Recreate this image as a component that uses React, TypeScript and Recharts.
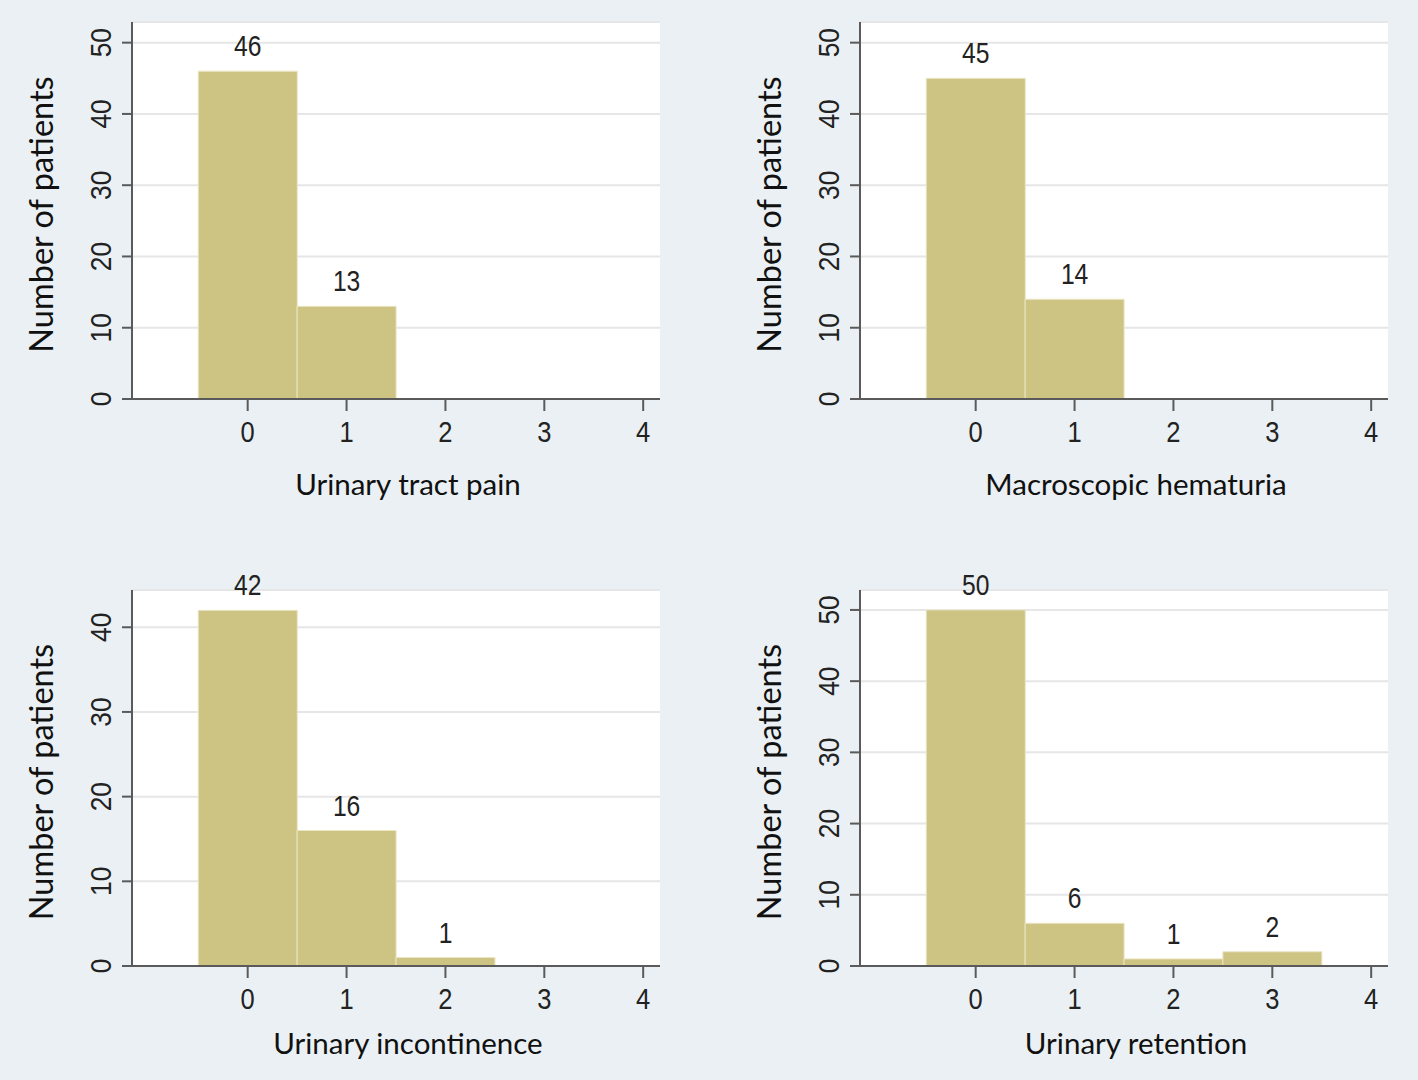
import React from 'react';
import { BarChart, Bar, XAxis, YAxis, CartesianGrid, LabelList, Label } from 'recharts';

// categories on the x axis (score 0..4)
const scores = [0, 1, 2, 3, 4];

// patients per score, one list per symptom
const tractPain = [46, 13, 0, 0, 0];
const hematuria = [45, 14, 0, 0, 0];
const incontinence = [42, 16, 1, 0, 0];
const retention = [50, 6, 1, 2, 0];

const titles = ['Urinary tract pain', 'Macroscopic hematuria', 'Urinary incontinence', 'Urinary retention'];

const yTicksTop = [0, 10, 20, 30, 40, 50];
const yTicksIncont = [0, 10, 20, 30, 40];
const yAxisTitle = 'Number of patients';

const BG = '#eaf0f3';
const BAR = '#cdc383';
const AXIS = '#5a5a5a';
const NUM_FONT = "'Liberation Sans', Arial, sans-serif";
const TITLE_FONT = "Lato, 'Open Sans', sans-serif";

type PanelProps = {
  counts: number[];
  title: string;
  yTicks: number[];
  yMax: number;
  left: number;
  top: number;
  marginLeft: number;
  marginTop: number;
  xAxisHeight: number;
  titleOffset: number;
};

// numbers in the original are tall and narrow, squeeze them a bit
const YTick = (props: any) => {
  const { x, y, payload } = props;
  return (
    <text
      transform={`translate(${x} ${y}) rotate(-90) scale(0.88 1)`}
      textAnchor="middle"
      fontFamily={NUM_FONT}
      fontSize={30}
      fill="#222"
    >
      {payload.value}
    </text>
  );
};

const XTick = (props: any) => {
  const { x, y, payload } = props;
  return (
    <text
      transform={`translate(${x} ${y}) scale(0.85 1)`}
      textAnchor="middle"
      dy="0.71em"
      fontFamily={NUM_FONT}
      fontSize={30}
      fill="#222"
    >
      {payload.value}
    </text>
  );
};

const ValueLabel = (props: any) => {
  const { x, y, width, value } = props;
  const cx = x + width / 2;
  const cy = y - 15;
  return (
    <text
      transform={`translate(${cx} ${cy}) scale(0.85 1)`}
      textAnchor="middle"
      fontFamily={NUM_FONT}
      fontSize={29}
      fill="#222"
    >
      {value}
    </text>
  );
};

const Panel: React.FC<PanelProps> = ({ counts, title, yTicks, yMax, left, top, marginLeft, marginTop, xAxisHeight, titleOffset }) => {
  const data = scores
    .map((s, i) => ({ score: s, count: counts[i] }))
    .filter((d) => d.count > 0);

  return (
    <div style={{ position: 'absolute', left, top }}>
      <BarChart
        width={709}
        height={540}
        data={data}
        barCategoryGap={0}
        barGap={0}
        margin={{ top: marginTop, right: 709 - marginLeft - 132 - 528, left: marginLeft, bottom: 0 }}
      >
        <CartesianGrid vertical={false} fill="#ffffff" stroke="#e6e6e6" strokeWidth={2} />
        <XAxis
          dataKey="score"
          type="number"
          domain={[-1.17, 4.17]}
          ticks={scores}
          allowDataOverflow
          height={xAxisHeight}
          stroke={AXIS}
          strokeWidth={2}
          tickSize={12}
          tickMargin={10}
          tick={<XTick />}
        >
          <Label
            content={(p: any) => {
              const vb = p.viewBox;
              return (
                <text
                  x={vb.x + vb.width / 2 + 12}
                  y={vb.y + titleOffset}
                  textAnchor="middle"
                  dominantBaseline="central"
                  fontFamily={TITLE_FONT}
                  fontSize={29.5}
                  fill="#111"
                >
                  {title}
                </text>
              );
            }}
          />
        </XAxis>
        <YAxis
          type="number"
          domain={[0, yMax]}
          ticks={yTicks}
          allowDataOverflow
          width={132}
          stroke={AXIS}
          strokeWidth={2}
          tickSize={10}
          tickMargin={11}
          tick={<YTick />}
        >
          <Label
            content={(p: any) => {
              const vb = p.viewBox;
              const cx = vb.x + vb.width - 92;
              const cy = vb.y + vb.height / 2 + 4;
              return (
                <text
                  x={cx}
                  y={cy}
                  transform={`rotate(-90 ${cx} ${cy})`}
                  textAnchor="middle"
                  dominantBaseline="central"
                  fontFamily={TITLE_FONT}
                  fontSize={32.5}
                  fill="#111"
                >
                  {yAxisTitle}
                </text>
              );
            }}
          />
        </YAxis>
        <Bar dataKey="count" fill={BAR} stroke="#ebe6c6" strokeWidth={1} isAnimationActive={false}>
          <LabelList dataKey="count" content={<ValueLabel />} />
        </Bar>
      </BarChart>
    </div>
  );
};

export default function App() {
  return (
    <div style={{ position: 'absolute', left: 0, top: 0, width: 1418, height: 1080, background: BG, overflow: 'hidden' }}>
      <Panel counts={tractPain} title={titles[0]} yTicks={yTicksTop} yMax={52.9} left={0} top={0} marginLeft={0} marginTop={22} xAxisHeight={141} titleOffset={84} />
      <Panel counts={hematuria} title={titles[1]} yTicks={yTicksTop} yMax={52.9} left={709} top={0} marginLeft={19} marginTop={22} xAxisHeight={141} titleOffset={84} />
      <Panel counts={incontinence} title={titles[2]} yTicks={yTicksIncont} yMax={44.4} left={0} top={540} marginLeft={0} marginTop={50} xAxisHeight={114} titleOffset={76} />
      <Panel counts={retention} title={titles[3]} yTicks={yTicksTop} yMax={52.8} left={709} top={540} marginLeft={19} marginTop={50} xAxisHeight={114} titleOffset={76} />
    </div>
  );
}
